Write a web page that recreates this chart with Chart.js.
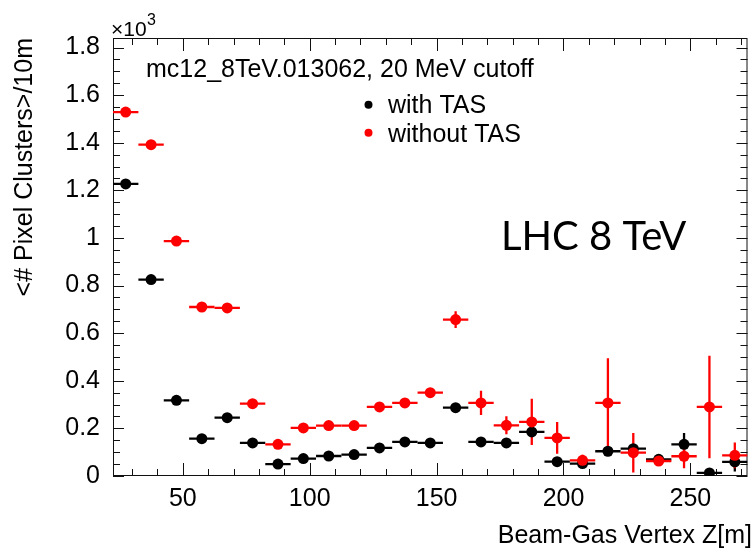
<!DOCTYPE html>
<html lang="en">
<head>
<meta charset="UTF-8">
<title>Pixel clusters vs beam-gas vertex</title>
<script src="https://cdn.jsdelivr.net/npm/chart.js"></script>
<style>
  html, body { margin: 0; padding: 0; background: #fff; }
  #wrap { width: 753px; height: 549px; }
</style>
</head>
<body>
<div id="wrap"><canvas id="c" width="753" height="549"></canvas></div>
<script>
// bin centres in Z [m], 10 m bins
const zCenters = [27.5, 37.5, 47.5, 57.5, 67.5, 77.5, 87.5, 97.5, 107.5, 117.5,
                  127.5, 137.5, 147.5, 157.5, 167.5, 177.5, 187.5, 197.5, 207.5, 217.5,
                  227.5, 237.5, 247.5, 257.5, 267.5];
const zHalfWidth = 5;

// <# pixel clusters>/10m, in units of 10^3
const withTAS = [1.227, 0.825, 0.318, 0.157, 0.245, 0.139, 0.050, 0.073, 0.084, 0.090,
                 0.118, 0.143, 0.139, 0.287, 0.143, 0.139, 0.185, 0.060, 0.052, 0.104,
                 0.115, 0.070, 0.133, 0.013, 0.059];
const withTASErr = [0.006, 0.006, 0.005, 0.005, 0.005, 0.005, 0.004, 0.004, 0.004, 0.005,
                    0.006, 0.007, 0.007, 0.010, 0.010, 0.012, 0.019, 0.010, 0.010, 0.012,
                    0.015, 0.010, 0.048, 0.005, 0.040];
const withoutTAS = [1.529, 1.392, 0.987, 0.710, 0.706, 0.304, 0.133, 0.202, 0.212, 0.212,
                    0.290, 0.307, 0.350, 0.657, 0.307, 0.213, 0.227, 0.160, 0.066, 0.307,
                    0.098, 0.063, 0.083, 0.290, 0.087];
const withoutTASErr = [0.008, 0.008, 0.007, 0.006, 0.006, 0.006, 0.005, 0.006, 0.006, 0.007,
                       0.008, 0.009, 0.010, 0.035, 0.051, 0.038, 0.097, 0.067, 0.023, 0.188,
                       0.083, 0.010, 0.050, 0.215, 0.054];

const xTickLabels = [50, 100, 150, 200, 250];
const yTickLabels = [0, 0.2, 0.4, 0.6, 0.8, 1.0, 1.2, 1.4, 1.6, 1.8];

const labelFont = '"Liberation Sans", Arial, sans-serif';

function points(vals, errs) {
    return zCenters.map((z, i) => ({x: z, y: vals[i], xe: zHalfWidth, ye: errs[i]}));
}

// error bars, drawn before the markers
const errorBars = {
    id: 'errorBars',
    beforeDatasetsDraw(chart) {
        const {ctx, chartArea: a, scales: {x, y}} = chart;
        ctx.save();
        ctx.beginPath();
        ctx.rect(a.left, a.top, a.right - a.left, a.bottom - a.top);
        ctx.clip();
        chart.data.datasets.slice().reverse().forEach(ds => {
            ctx.strokeStyle = ds.backgroundColor;
            ctx.lineWidth = 2.3;
            ds.data.forEach(p => {
                const px = x.getPixelForValue(p.x), py = y.getPixelForValue(p.y);
                ctx.beginPath();
                ctx.moveTo(x.getPixelForValue(p.x - p.xe), py);
                ctx.lineTo(x.getPixelForValue(p.x + p.xe), py);
                ctx.moveTo(px, y.getPixelForValue(p.y - p.ye));
                ctx.lineTo(px, y.getPixelForValue(p.y + p.ye));
                ctx.stroke();
            });
        });
        ctx.restore();
    }
};

// ROOT style frame with inward ticks on all four sides
const frame = {
    id: 'frame',
    beforeDatasetsDraw(chart) {
        const {ctx, chartArea: a, scales: {x, y}} = chart;
        ctx.save();
        ctx.strokeStyle = '#111';
        ctx.lineWidth = 1;
        ctx.strokeRect(a.left + 0.5, a.top + 0.5, a.right - a.left - 1, a.bottom - a.top - 1);
        ctx.beginPath();
        for (let v = 30; v <= 270; v += 10) {
            const len = v % 50 === 0 ? 13 : 7;
            const px = Math.round(x.getPixelForValue(v)) + 0.5;
            ctx.moveTo(px, a.bottom); ctx.lineTo(px, a.bottom - len);
            ctx.moveTo(px, a.top); ctx.lineTo(px, a.top + len);
        }
        for (let k = 0; k <= 36; k++) {
            const len = k % 4 === 0 ? 11 : 7;
            const py = Math.round(y.getPixelForValue(k * 0.05)) + 0.5;
            ctx.moveTo(a.left, py); ctx.lineTo(a.left + len, py);
            ctx.moveTo(a.right, py); ctx.lineTo(a.right - len, py);
        }
        ctx.stroke();
        ctx.restore();
    }
};

// axis titles, exponent, annotation and legend
const texts = {
    id: 'texts',
    afterDraw(chart) {
        const {ctx, chartArea: a} = chart;
        ctx.save();
        ctx.fillStyle = '#000';
        ctx.font = '25px ' + labelFont;

        ctx.textAlign = 'right';
        ctx.textBaseline = 'alphabetic';
        ctx.fillText('Beam-Gas Vertex Z[m]', 752, 543);

        ctx.save();
        ctx.translate(31.5, a.top);
        ctx.rotate(-Math.PI / 2);
        ctx.fillText('<# Pixel Clusters>/10m', 0, 0);
        ctx.restore();

        ctx.textAlign = 'left';
        ctx.fillText('mc12_8TeV.013062, 20 MeV cutoff', 146, 77);
        ctx.fillText('with TAS', 388, 113);
        ctx.fillText('without TAS', 388, 141.5);

        ctx.beginPath();
        ctx.arc(368.5, 104.7, 4, 0, Math.PI * 2);
        ctx.fill();
        ctx.fillStyle = '#ff0000';
        ctx.beginPath();
        ctx.arc(368.5, 132.7, 4, 0, Math.PI * 2);
        ctx.fill();

        // x10^3 exponent above the y axis
        ctx.fillStyle = '#000';
        ctx.font = '21px ' + labelFont;
        ctx.fillText('\u00d710', 111, 35.5);
        const w = ctx.measureText('\u00d710').width;
        ctx.font = '16px ' + labelFont;
        ctx.fillText('3', 111 + w + 0.5, 25);

        ctx.font = '40px Lato, "Open Sans", sans-serif';
        ctx.fillText('LHC 8 TeV', 501, 249.5);
        ctx.restore();
    }
};

new Chart(document.getElementById('c'), {
    type: 'scatter',
    data: {
        datasets: [
            {
                label: 'without TAS',
                data: points(withoutTAS, withoutTASErr),
                backgroundColor: '#ff0000',
                pointRadius: 5.5,
                pointBorderWidth: 0
            },
            {
                label: 'with TAS',
                data: points(withTAS, withTASErr),
                backgroundColor: '#000000',
                pointRadius: 5.5,
                pointBorderWidth: 0
            }
        ]
    },
    options: {
        responsive: false,
        animation: false,
        devicePixelRatio: 1,
        layout: {padding: {top: 38, right: 1, left: 0, bottom: 0}},
        plugins: {legend: {display: false}, tooltip: {enabled: false}},
        scales: {
            x: {
                type: 'linear',
                min: 22.5,
                max: 272.5,
                grid: {display: false},
                border: {display: false},
                afterBuildTicks: s => { s.ticks = xTickLabels.map(v => ({value: v})); },
                afterFit: s => { s.height = 73; },
                ticks: {
                    color: '#000',
                    font: {family: labelFont, size: 25},
                    padding: 0,
                    maxRotation: 0
                }
            },
            y: {
                min: 0,
                max: 1.84,
                grid: {display: false},
                border: {display: false},
                afterBuildTicks: s => { s.ticks = yTickLabels.map(v => ({value: v})); },
                afterFit: s => { s.width = 113; },
                ticks: {
                    color: '#000',
                    font: {family: labelFont, size: 25},
                    padding: 5,
                    callback: v => String(Math.round(v * 10) / 10)
                }
            }
        }
    },
    plugins: [frame, errorBars, texts]
});
</script>
</body>
</html>
